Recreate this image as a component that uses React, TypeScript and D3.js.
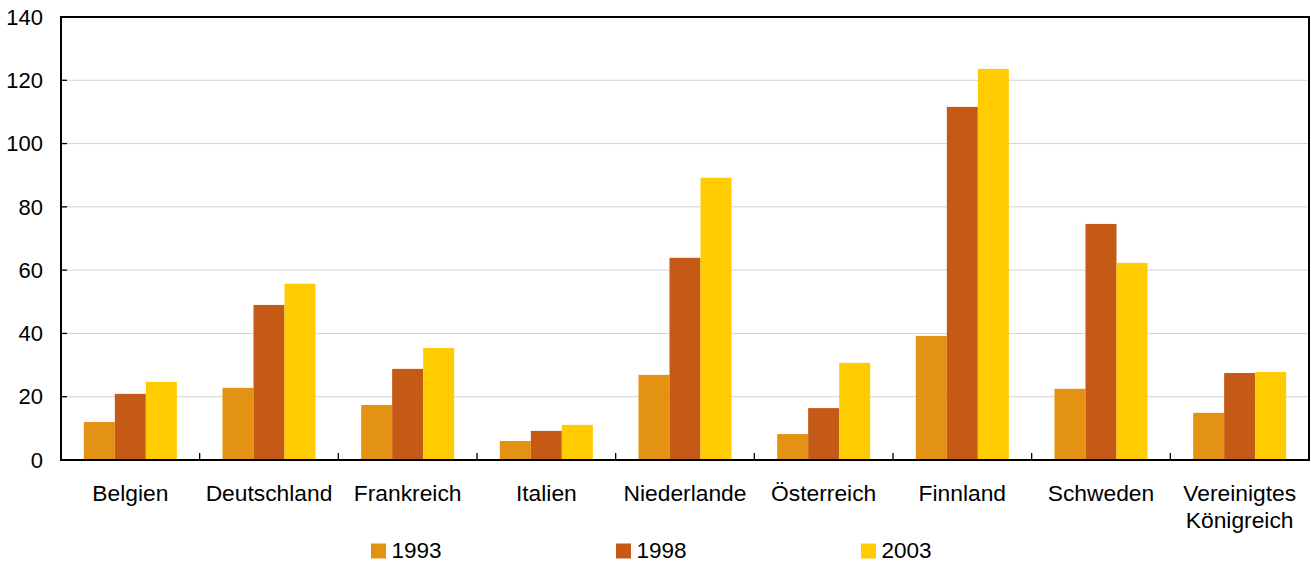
import React from "react";
import * as d3 from "d3";

const categories = ["Belgien", "Deutschland", "Frankreich", "Italien", "Niederlande", "Österreich", "Finnland", "Schweden", "Vereinigtes\nKönigreich"];
const seriesNames = ["1993", "1998", "2003"];
const v1993 = [12.0, 22.8, 17.4, 6.0, 26.9, 8.2, 39.2, 22.5, 14.9];
const v1998 = [20.9, 49.0, 28.8, 9.2, 63.9, 16.4, 111.6, 74.6, 27.5];
const v2003 = [24.7, 55.7, 35.4, 11.1, 89.2, 30.7, 123.6, 62.3, 27.8];
const yTicks = [0, 20, 40, 60, 80, 100, 120, 140];
const colors = ["#E39213", "#C55A16", "#FFCC00"];

export default function App() {
  const W = 1311, H = 563;
  const left = 61, right = 1309, top = 17, bottom = 460;
  const series = [v1993, v1998, v2003];
  const x = d3.scaleBand<number>().domain(d3.range(categories.length)).range([left, right]).paddingInner(0).paddingOuter(0);
  const bw = x.bandwidth();
  const inner = d3.scaleBand<number>().domain([0, 1, 2]).range([bw * 0.1645, bw * (1 - 0.1645)]);
  const y = d3.scaleLinear().domain([0, 140]).range([bottom, top]);
  const font = "'Liberation Sans', Arial, sans-serif";
  const legendX = [371, 616, 861];
  return (
    <svg width={W} height={H} style={{ position: "absolute", left: 0, top: 0 }} fontFamily={font}>
      <rect x={0} y={0} width={W} height={H} fill="#fff" />
      {yTicks.filter(t => t > 0 && t < 140).map(t => (
        <line key={t} x1={left} x2={right} y1={y(t)} y2={y(t)} stroke="#d4d4d4" strokeWidth={1} />
      ))}
      {series.map((vals, si) =>
        vals.map((v, ci) => (
          <rect key={si + "-" + ci} x={(x(ci) as number) + (inner(si) as number)} y={y(v)} width={inner.bandwidth()} height={bottom - y(v)} fill={colors[si]} />
        ))
      )}
      <rect x={left} y={top} width={right - left} height={bottom - top} fill="none" stroke="#000" strokeWidth={2} />
      {yTicks.filter(t => t > 0 && t < 140).map(t => (
        <line key={"t" + t} x1={left} x2={left + 6} y1={y(t)} y2={y(t)} stroke="#000" strokeWidth={1.3} />
      ))}
      {d3.range(1, categories.length).map(i => (
        <line key={"xt" + i} x1={x(i) as number} x2={x(i) as number} y1={bottom} y2={bottom - 7} stroke="#000" strokeWidth={1.3} />
      ))}
      {yTicks.map(t => (
        <text key={"yl" + t} x={43} y={y(t)} dy="0.35em" textAnchor="end" fontSize={22} fill="#000">{t}</text>
      ))}
      {categories.map((c, i) => (
        <text key={"c" + i} x={(x(i) as number) + bw / 2} y={500.5} textAnchor="middle" fontSize={22.8} fill="#000">
          {c.split("\n").map((line, li) => (
            <tspan key={li} x={(x(i) as number) + bw / 2} dy={li === 0 ? 0 : 27.6}>{line}</tspan>
          ))}
        </text>
      ))}
      {seriesNames.map((s, i) => (
        <g key={"lg" + s}>
          <rect x={legendX[i]} y={543.5} width={15} height={15} fill={colors[i]} />
          <text x={legendX[i] + 20.5} y={557.5} fontSize={22.5} fill="#000">{s}</text>
        </g>
      ))}
    </svg>
  );
}
